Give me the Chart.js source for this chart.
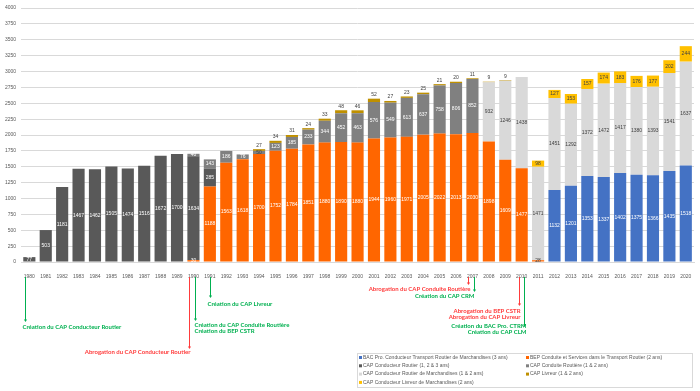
<!DOCTYPE html>
<html>
<head>
<meta charset="utf-8">
<script src="https://cdn.jsdelivr.net/npm/chart.js@4/dist/chart.umd.min.js"></script>
<style>
  html, body { margin: 0; padding: 0; background: #fff; }
  #wrap { width: 700px; height: 391px; position: relative; }
</style>
</head>
<body>
<div id="wrap"><canvas id="graphCanvas"></canvas></div>
<script>
const annees = ['1980','1981','1982','1983','1984','1985','1986','1987','1988','1989',
  '1990','1991','1992','1993','1994','1995','1996','1997','1998','1999',
  '2000','2001','2002','2003','2004','2005','2006','2007','2008','2009',
  '2010','2011','2012','2013','2014','2015','2016','2017','2018','2019','2020'];

const _ = null;
const bacPro = [_,_,_,_,_,_,_,_,_,_, _,_,_,_,_,_,_,_,_,_, _,_,_,_,_,_,_,_,_,_,
  _,_,1132,1201,1353,1337,1402,1375,1366,1435,1518];
const bepCstr = [_,_,_,_,_,_,_,_,_,_,
  30,1188,1563,1618,1700,1752,1784,1851,1880,1890,
  1880,1944,1960,1971,2005,2022,2013,2030,1898,1609,
  1477,28,_,_,_,_,_,_,_,_,_];
const capConducteurRoutier = [77,503,1181,1467,1462,1505,1474,1516,1672,1700,
  1634,285,_,_,_,_,_,_,_,_, _,_,_,_,_,_,_,_,_,_, _,_,_,_,_,_,_,_,_,_,_];
const capConduiteRoutiere = [_,_,_,_,_,_,_,_,_,_,
  40,143,186,76,50,123,185,233,344,452,
  463,576,549,613,637,758,806,852,_,_,
  _,_,_,_,_,_,_,_,_,_,_];
const capCrm = [_,_,_,_,_,_,_,_,_,_, _,_,_,_,_,_,_,_,_,_, _,_,_,_,_,_,_,_,
  932,1246,1438,1471,1451,1292,1372,1472,1417,1380,1393,1541,1637];
const capLivreur = [_,_,_,_,_,_,_,_,_,_,
  _,_,_,_,27,34,31,24,33,48,
  46,52,27,23,25,21,20,11,9,9,
  _,_,_,_,_,_,_,_,_,_,_];
const capClm = [_,_,_,_,_,_,_,_,_,_, _,_,_,_,_,_,_,_,_,_, _,_,_,_,_,_,_,_,_,_,
  _,98,127,153,157,174,183,176,177,202,244];

const yTicks = [0,250,500,750,1000,1250,1500,1750,2000,2250,2500,2750,3000,3250,3500,3750,4000];

const series = [
  { label: 'BAC Pro. Conducteur Transport Routier de Marchandises (3 ans)', data: bacPro, color: '#4472C4', txt: '#ffffff' },
  { label: 'BEP Conduite et Services dans le Transport Routier (2 ans)', data: bepCstr, color: '#FF6600', txt: '#ffffff' },
  { label: 'CAP Conducteur Routier (1, 2 & 3 ans)', data: capConducteurRoutier, color: '#595959', txt: '#ffffff' },
  { label: 'CAP Conduite Routière (1 & 2 ans)', data: capConduiteRoutiere, color: '#808080', txt: '#ffffff' },
  { label: 'CAP Conducteur Routier de Marchandises (1 & 2 ans)', data: capCrm, color: '#D9D9D9', txt: '#404040' },
  { label: 'CAP Livreur (1 & 2 ans)', data: capLivreur, color: '#BF9000', txt: '#404040', above: true },
  { label: 'CAP Conducteur Livreur de Marchandises (2 ans)', data: capClm, color: '#FFC000', txt: '#404040' }
];

// repères sous l'axe des abscisses
const reperes = [
  { an: '1980', dx: -4, fin: 322, coul: '#00B050', align: 'left', tx: -3, ty: 327, lignes: ['Création du CAP Conducteur Routier'] },
  { an: '1990', dx: -4, fin: 349, coul: '#FF3B3B', align: 'right', tx: 1, ty: 352, lignes: ['Abrogation du CAP Conducteur Routier'] },
  { an: '1990', dx: 2, fin: 321, coul: '#00B050', align: 'left', tx: -1, ty: 325, lignes: ['Création du CAP Conduite Routière', 'Création du BEP CSTR'] },
  { an: '1991', dx: 0, fin: 298, coul: '#00B050', align: 'left', tx: -3, ty: 304, lignes: ['Création du CAP Livreur'] },
  { an: '2007', dx: -4, fin: 285, coul: '#FF3B3B', align: 'right', tx: 2, ty: 289, lignes: ['Abrogation du CAP Conduite Routière'] },
  { an: '2007', dx: 2, fin: 292, coul: '#00B050', align: 'right', tx: 0, ty: 296, lignes: ['Création du CAP CRM'] },
  { an: '2010', dx: -3, fin: 306, coul: '#FF3B3B', align: 'right', tx: 1, ty: 311, lignes: ['Abrogation du BEP CSTR', 'Abrogation du CAP Livreur'] },
  { an: '2010', dx: 2, fin: 327, coul: '#00B050', align: 'right', tx: 2, ty: 326, lignes: ['Création du BAC Pro. CTRM', 'Création du CAP CLM'] }
];

const etiquettes = {
  id: 'etiquettes',
  afterDatasetsDraw(chart) {
    const ctx = chart.ctx;
    ctx.save();
    ctx.font = '5px "Liberation Sans", sans-serif';
    ctx.textAlign = 'center';
    ctx.textBaseline = 'middle';
    chart.data.datasets.forEach((ds, i) => {
      const meta = chart.getDatasetMeta(i);
      meta.data.forEach((el, j) => {
        const v = ds.data[j];
        if (v === null || v === undefined) return;
        const s = series[i];
        if (s.above) {
          ctx.fillStyle = '#404040';
          ctx.fillText(String(v), el.x, el.y - 4);
          return;
        }
        let c = s.txt;
        if (Math.abs(el.base - el.y) < 6 && series[i + 1]) {
          // petit segment : la couleur du texte suit le segment du dessus
          for (let k = i + 1; k < series.length; k++) {
            if (series[k].data[j] !== null) { c = series[k].txt; break; }
          }
        }
        ctx.fillStyle = c;
        ctx.fillText(String(v), el.x, (el.y + el.base) / 2);
      });
    });
    ctx.restore();
  },
  afterDraw(chart) {
    const ctx = chart.ctx;
    const x = chart.scales.x;
    const haut = 277;
    ctx.save();
    reperes.forEach(r => {
      const px = Math.round(x.getPixelForValue(annees.indexOf(r.an)) + r.dx) + 0.5;
      ctx.strokeStyle = r.coul;
      ctx.fillStyle = r.coul;
      ctx.lineWidth = 1;
      ctx.beginPath();
      ctx.moveTo(px, haut);
      ctx.lineTo(px, r.fin - 2);
      ctx.stroke();
      ctx.beginPath();
      ctx.moveTo(px - 1.6, r.fin - 2.5);
      ctx.lineTo(px + 1.6, r.fin - 2.5);
      ctx.lineTo(px, r.fin);
      ctx.closePath();
      ctx.fill();
      ctx.font = 'bold 6px Lato, sans-serif';
      ctx.textAlign = r.align;
      ctx.textBaseline = 'middle';
      r.lignes.forEach((l, k) => ctx.fillText(l, px + r.tx, r.ty + k * 6.5));
    });

    // légende
    ctx.strokeStyle = '#D9D9D9';
    ctx.lineWidth = 1;
    ctx.strokeRect(357.5, 353.5, 335, 34);
    ctx.font = '5px "Liberation Sans", sans-serif';
    ctx.textAlign = 'left';
    ctx.textBaseline = 'middle';
    series.forEach((s, i) => {
      const col = i % 2, row = Math.floor(i / 2);
      const lx = col === 0 ? 359 : 526;
      const ly = 357.5 + row * 8.3;
      ctx.fillStyle = s.color;
      ctx.fillRect(lx, ly - 1.5, 3, 3);
      ctx.fillStyle = '#595959';
      ctx.fillText(s.label, lx + 4, ly);
    });
    ctx.restore();
  }
};

const ctx = document.getElementById('graphCanvas').getContext('2d');
new Chart(ctx, {
  type: 'bar',
  data: {
    labels: annees,
    datasets: series.map(s => ({
      label: s.label,
      data: s.data,
      backgroundColor: s.color,
      borderColor: '#ffffff',
      borderWidth: 0,
      categoryPercentage: 1,
      barPercentage: 0.74
    }))
  },
  options: {
    responsive: true,
    maintainAspectRatio: false,
    animation: false,
    layout: { padding: { top: 8, right: 6, bottom: 107, left: 0 } },
    scales: {
      x: {
        stacked: true,
        grid: { display: false },
        border: { display: true, color: '#D9D9D9' },
        ticks: { color: '#595959', font: { size: 5, family: '"Liberation Sans", sans-serif' }, maxRotation: 0, autoSkip: false, padding: 4 }
      },
      y: {
        stacked: true,
        min: 0,
        max: 4000,
        afterBuildTicks(axis) { axis.ticks = yTicks.map(v => ({ value: v })); },
        grid: { color: '#D9D9D9', drawTicks: false },
        border: { display: false },
        ticks: {
          color: '#595959',
          font: { size: 5, family: '"Liberation Sans", sans-serif' },
          padding: 5,
          callback: v => String(v)
        }
      }
    },
    plugins: {
      legend: { display: false },
      tooltip: { enabled: false }
    }
  },
  plugins: [etiquettes]
});
</script>
</body>
</html>
